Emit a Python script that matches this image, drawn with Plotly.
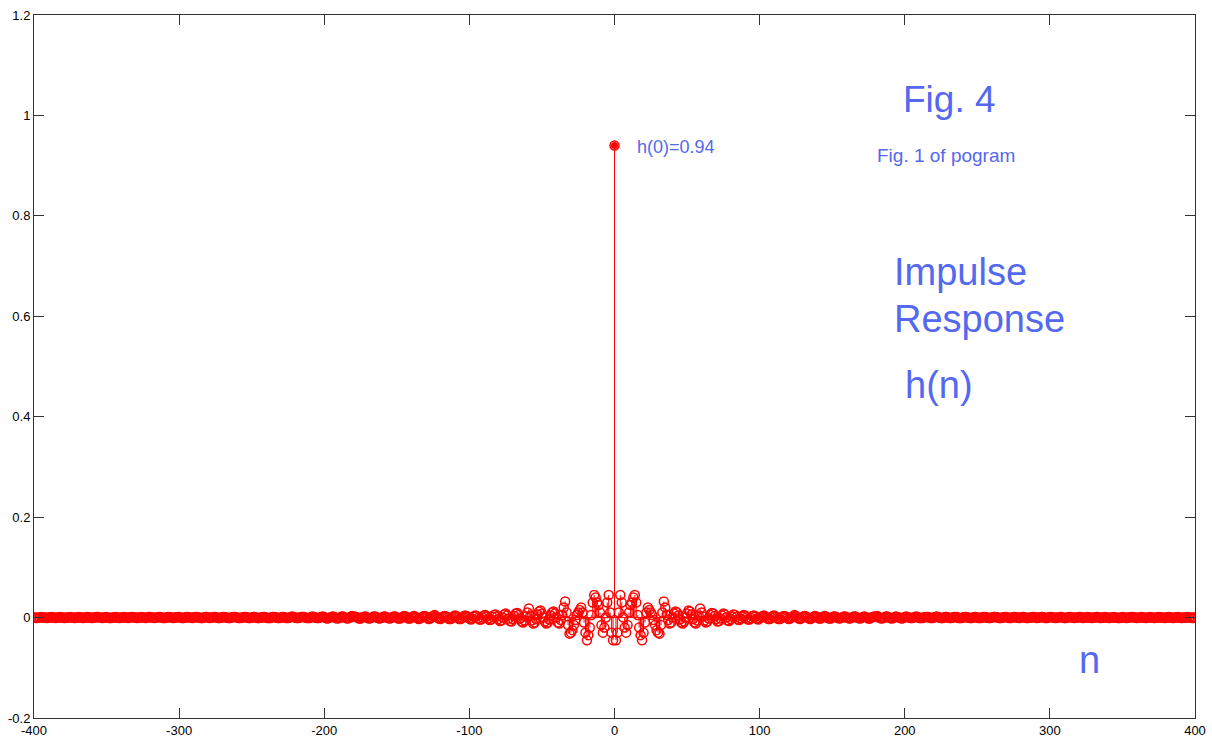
import plotly.graph_objects as go

# Impulse response h(n), n = 0..100 (symmetric about n=0)
h_center = [
    0.94, -0.045, -0.03, 0.01, 0.045, 0.03, 0.0, -0.02, -0.03, -0.015,
    0.01, 0.025, 0.03, 0.04, 0.045, 0.03, 0.005, -0.02, -0.035, -0.045,
    -0.03, -0.01, 0.01, 0.02, 0.015, 0.01, 0.005, -0.005, -0.015, -0.025,
    -0.03, -0.032, -0.015, 0.01, 0.032, 0.02, 0.005, -0.005, -0.012, -0.01,
    0.0, 0.008, 0.012, 0.01, 0.004, -0.004, -0.01, -0.012, -0.008, 0.0,
    0.008, 0.014, 0.012, 0.006, -0.003, -0.01, -0.012, -0.006, 0.004, 0.018,
    0.01, 0.002, -0.006, -0.01, -0.008, -0.002, 0.005, 0.009, 0.008, 0.003,
    -0.003, -0.008, -0.007, -0.002, 0.004, 0.008, 0.006, 0.0, -0.006, -0.007,
    -0.003, 0.002, 0.006, 0.005, 0.001, -0.004, -0.005, -0.002, 0.002, 0.005,
    0.004, 0.0, -0.004, -0.004, -0.001, 0.003, 0.004, 0.002, -0.002, -0.004,
    -0.002,
]

# Tail n = 101..400, in thousandths
h_tail_milli = [
    1, 3, 4, 2, -1, -3, -3, 0, 3, 4,
    2, -1, -3, -3, 0, 2, 3, 2, -1, -3,
    -2, 0, 2, 5, 3, 0, -2, -3, -1, 2,
    3, 2, 0, -2, -3, -1, 1, 3, 2, 0,
    -2, -2, 0, 2, 3, 1, -1, -2, -2, 0,
    2, 2, 1, -1, -2, -1, 0, 2, 2, 0,
    -1, -2, -1, 1, 2, 2, 0, -1, -2, -1,
    1, 2, 1, 0, -2, -2, 0, 1, 2, 1,
    3, 1, -1, -2, -1, 0, 2, 2, 0, -1,
    -2, -1, 1, 2, 1, 0, -1, -2, -1, 1,
    2, 1, 0, -1, -1, 0, 1, 2, 1, -1,
    -1, -1, 0, 1, 1, 1, 0, -1, -1, 0,
    1, 2, 1, 0, -1, -1, 0, 1, 1, 0,
    -1, -1, 0, 1, 1, 1, -1, -1, -1, 0,
    1, 1, 0, 0, -1, -1, 0, 1, 1, 0,
    -1, -1, 0, 1, 1, 0, 0, -1, -1, 0,
    1, 1, 1, 0, -1, -1, 0, 0, 1, 1,
    0, -1, -1, 0, 1, 1, 0, 0, -1, 0,
    1, 1, 0, -1, -1, 0, 0, 1, 1, 0,
    -1, 0, 0, 1, 1, 0, -1, -1, 0, 1,
    1, 0, 0, -1, 0, 0, 1, 1, 0, -1,
    -1, 0, 1, 1, 0, 0, -1, 0, 0, 1,
    1, 0, -1, 0, 0, 1, 0, 0, -1, 0,
    0, 1, 1, 0, -1, 0, 0, 1, 0, 0,
    -1, 0, 0, 1, 0, 0, -1, -1, 0, 1,
    0, 0, -1, 0, 0, 1, 1, 0, 0, -1,
    0, 0, 1, 0, 0, -1, 0, 0, 1, 0,
    0, -1, 0, 0, 1, 0, 0, 0, -1, 0,
    0, 1, 0, 0, -1, 0, 0, 1, 0, 0,
    -1, 0, 0, 0, 1, 0, 0, -1, 0, 0,
]

x_ticks = [-400, -300, -200, -100, 0, 100, 200, 300, 400]
y_ticks = [-0.2, 0, 0.2, 0.4, 0.6, 0.8, 1, 1.2]
y_tick_text = ["-0.2", "0", "0.2", "0.4", "0.6", "0.8", "1", "1.2"]
x_tick_text = ["-400", "-300", "-200", "-100", "0", "100", "200", "300", "400"]

# Assemble full symmetric sequence
h_pos = h_center + [v / 1000.0 for v in h_tail_milli]
n_pos = list(range(len(h_pos)))
n_all = [-k for k in reversed(n_pos[1:])] + n_pos
h_all = list(reversed(h_pos[1:])) + h_pos

RED = "#ff0000"
BLUE = "#5468f0"
FONT = "Liberation Sans, Arial, sans-serif"

stem_x, stem_y = [], []
for n, v in zip(n_all, h_all):
    stem_x += [n, n, None]
    stem_y += [0, v, None]

fig = go.Figure()
fig.add_trace(go.Scatter(x=stem_x, y=stem_y, mode="lines",
                         line=dict(color=RED, width=1), hoverinfo="skip"))
fig.add_trace(go.Scatter(x=[n_all[0], n_all[-1]], y=[0, 0], mode="lines",
                         line=dict(color=RED, width=1), hoverinfo="skip"))
fig.add_trace(go.Scatter(x=n_all, y=h_all, mode="markers",
                         marker=dict(symbol="circle-open", size=9, color=RED,
                                     line=dict(color=RED, width=1.5))))
fig.add_trace(go.Scatter(x=[0], y=[h_center[0]], mode="markers",
                         marker=dict(symbol="circle", size=7, color=RED)))

annots = [
    dict(text="Fig. 4", x=230.5, y=1.031, size=37, xanchor="center"),
    dict(text="Fig. 1 of pogram", x=228.5, y=0.921, size=19, xanchor="center"),
    dict(text="Impulse", x=191, y=0.688, size=38, xanchor="left"),
    dict(text="Response", x=191, y=0.595, size=38, xanchor="left"),
    dict(text="h(n)", x=199, y=0.463, size=38, xanchor="left"),
    dict(text="n", x=319, y=-0.084, size=38, xanchor="left"),
    dict(text="h(0)=0.94", x=14, y=0.937, size=18, xanchor="left"),
]
for a in annots:
    fig.add_annotation(x=a["x"], y=a["y"], xref="x", yref="y", text=a["text"],
                       showarrow=False, xanchor=a["xanchor"], yanchor="middle",
                       font=dict(family=FONT, size=a["size"], color=BLUE))

axis_common = dict(showgrid=False, zeroline=False, showline=True,
                   linecolor="#333333", linewidth=1, mirror="ticks",
                   ticks="inside", ticklen=10, tickcolor="#333333",
                   automargin=False,
                   tickfont=dict(family=FONT, size=13, color="#000000"))

fig.update_xaxes(range=[-400, 400], tickvals=x_ticks, ticktext=x_tick_text,
                 **axis_common)
fig.update_yaxes(range=[-0.2, 1.2], tickvals=y_ticks, ticktext=y_tick_text,
                 **axis_common)

fig.update_layout(width=1212, height=738, showlegend=False,
                  plot_bgcolor="white", paper_bgcolor="white",
                  margin=dict(l=34, r=17, t=15, b=20))

fig.write_html("out.html")
